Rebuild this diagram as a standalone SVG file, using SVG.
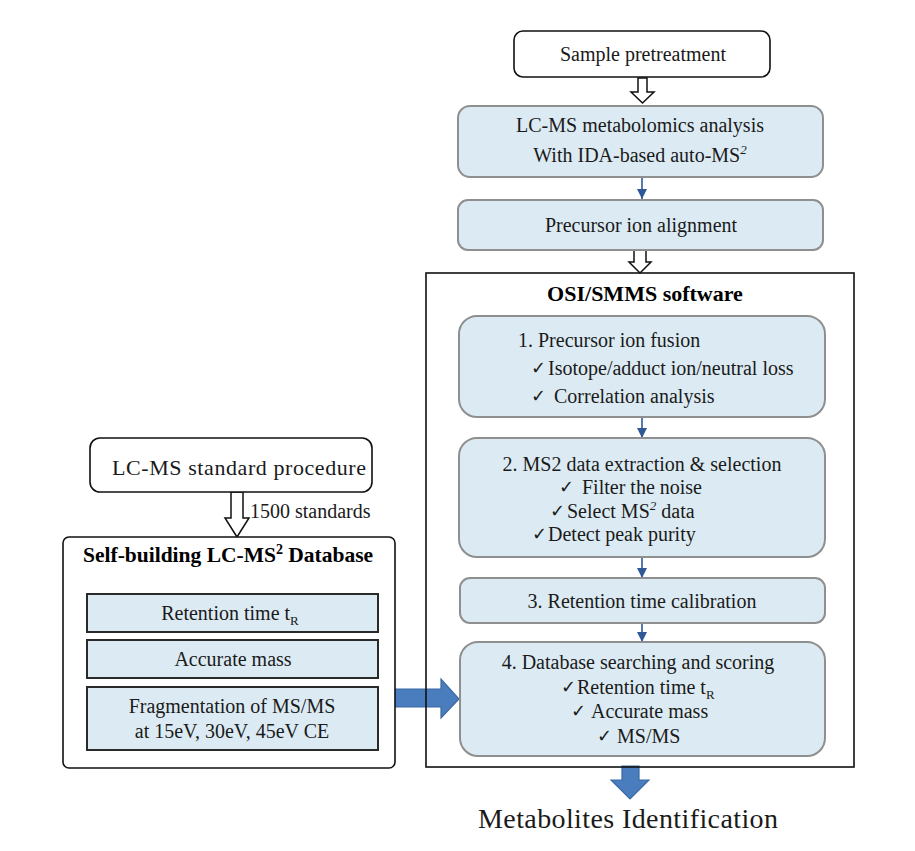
<svg xmlns="http://www.w3.org/2000/svg" width="915" height="851" viewBox="0 0 915 851">
<defs>
<style>
text{font-family:"Liberation Serif","DejaVu Sans",serif;font-size:20px;fill:#1a1a1a}
.c{text-anchor:middle}
.b{font-weight:bold;fill:#000}
.f22{font-size:22px}
.f21{font-size:21.5px}
.f28{font-size:28px}
.wbox{fill:#fff;stroke:#111;stroke-width:1.6}
.bbox{fill:#dcebf3;stroke:#8f8f8f;stroke-width:2}
.ibox{fill:#dcebf3;stroke:#2a2a2a;stroke-width:2}
.frame{fill:none;stroke:#111;stroke-width:1.6}
.hollow{fill:#fff;stroke:#111;stroke-width:1.5;stroke-linejoin:miter}
.big{fill:#4a7dbd;stroke:#3a68a4;stroke-width:1.2}
.thin{stroke:#2f5897;stroke-width:1.6;fill:none}
.ck{font-family:"DejaVu Sans",sans-serif;font-size:18px}
</style>
<marker id="ah" markerUnits="userSpaceOnUse" markerWidth="12" markerHeight="12" viewBox="0 0 12 12" refX="10" refY="6" orient="auto">
<path d="M0,1 L10,6 L0,11 Z" fill="#2f5897"/>
</marker>
</defs>
<rect width="915" height="851" fill="#fff"/>

<g id="connectors">
<path class="hollow" d="M638,78 H647 V92 H654 L642.5,103 L631,92 H638 Z"/>
<path class="hollow" d="M634,250 H646 V262 H651 L640,273 L629,262 H634 Z"/>
<path class="hollow" d="M231,492 H243 V518 H249 L237,537 L225,518 H231 Z"/>
<line class="thin" x1="642" y1="177" x2="642" y2="199" marker-end="url(#ah)"/>
<line class="thin" x1="642" y1="417" x2="642" y2="438" marker-end="url(#ah)"/>
<line class="thin" x1="642" y1="557" x2="642" y2="578" marker-end="url(#ah)"/>
<line class="thin" x1="642" y1="623" x2="642" y2="642" marker-end="url(#ah)"/>
<path class="big" d="M393,689 H441 V679 L459,699 L441,718 V707 H393 Z"/>
<path class="big" d="M622,766 H639 V780 H649 L630,799 L611,780 H622 Z"/>
<text x="250" y="518">1500 standards</text>
</g>

<g id="sample">
<rect class="wbox" x="514" y="31" width="256" height="46" rx="9"/>
<text class="c" x="643" y="61">Sample pretreatment</text>
</g>

<g id="lcms">
<rect class="bbox" x="458" y="106" width="365" height="71" rx="12"/>
<text class="c" x="640" y="132" textLength="248" lengthAdjust="spacing">LC-MS metabolomics analysis</text>
<text class="c" x="640" y="162">With IDA-based auto-MS<tspan font-size="13" font-style="italic" dy="-8">2</tspan></text>
</g>

<g id="align">
<rect class="bbox" x="458" y="200" width="365" height="50" rx="10"/>
<text class="c" x="641" y="232">Precursor ion alignment</text>
</g>

<g id="osi">
<rect class="frame" x="426" y="273" width="428" height="494"/>
<text class="c b f22" x="645" y="301">OSI/SMMS software</text>
</g>

<g id="step1">
<rect class="bbox" x="459" y="316" width="366" height="101" rx="18"/>
<text x="518" y="347">1. Precursor ion fusion</text>
<text class="ck" x="531" y="374">✓</text>
<text x="548" y="375">Isotope/adduct ion/neutral loss</text>
<text class="ck" x="531" y="402">✓</text>
<text x="554" y="403">Correlation analysis</text>
</g>

<g id="step2">
<rect class="bbox" x="459" y="438" width="366" height="119" rx="18"/>
<text class="c" x="642" y="471">2. MS2 data extraction &amp; selection</text>
<text class="ck" x="559" y="493">✓</text>
<text x="582" y="494">Filter the noise</text>
<text class="ck" x="550" y="517">✓</text>
<text x="567" y="518">Select MS<tspan font-size="13" font-style="italic" dy="-8">2</tspan><tspan dy="8"> data</tspan></text>
<text class="ck" x="532" y="540">✓</text>
<text x="548" y="541">Detect peak purity</text>
</g>

<g id="step3">
<rect class="bbox" x="460" y="578" width="365" height="45" rx="10"/>
<text class="c" x="642" y="608">3. Retention time calibration</text>
</g>

<g id="step4">
<rect class="bbox" x="460" y="642" width="365" height="114" rx="18"/>
<text class="c" x="638" y="669">4. Database searching and scoring</text>
<text class="ck" x="561" y="693">✓</text>
<text x="577" y="694">Retention time t<tspan font-size="13" dy="5">R</tspan></text>
<text class="ck" x="571" y="717">✓</text>
<text x="591" y="718">Accurate mass</text>
<text class="ck" x="597" y="742">✓</text>
<text x="617" y="743">MS/MS</text>
</g>

<g id="result">
<text class="f28" x="478" y="828" textLength="300" lengthAdjust="spacing">Metabolites Identification</text>
</g>

<g id="stdproc">
<rect class="wbox" x="90" y="438" width="282" height="54" rx="10"/>
<text x="112" y="475" style="font-size:22px" textLength="254" lengthAdjust="spacing">LC-MS standard procedure</text>
</g>

<g id="database">
<rect class="wbox" x="63" y="537" width="332" height="231" rx="6"/>
<text class="b f21" x="83" y="562">Self-building LC-MS<tspan font-size="14" dy="-8">2</tspan><tspan dy="8"> Database</tspan></text>
</g>

<g id="db-rt">
<rect class="ibox" x="87" y="594" width="291" height="38"/>
<text class="c" x="230" y="620">Retention time t<tspan font-size="13" dy="5">R</tspan></text>
</g>

<g id="db-mass">
<rect class="ibox" x="87" y="640" width="291" height="38"/>
<text class="c" x="233" y="666">Accurate mass</text>
</g>

<g id="db-frag">
<rect class="ibox" x="87" y="687" width="291" height="63"/>
<text class="c" x="232" y="713">Fragmentation of MS/MS</text>
<text class="c" x="232" y="738">at 15eV, 30eV, 45eV CE</text>
</g>
</svg>
